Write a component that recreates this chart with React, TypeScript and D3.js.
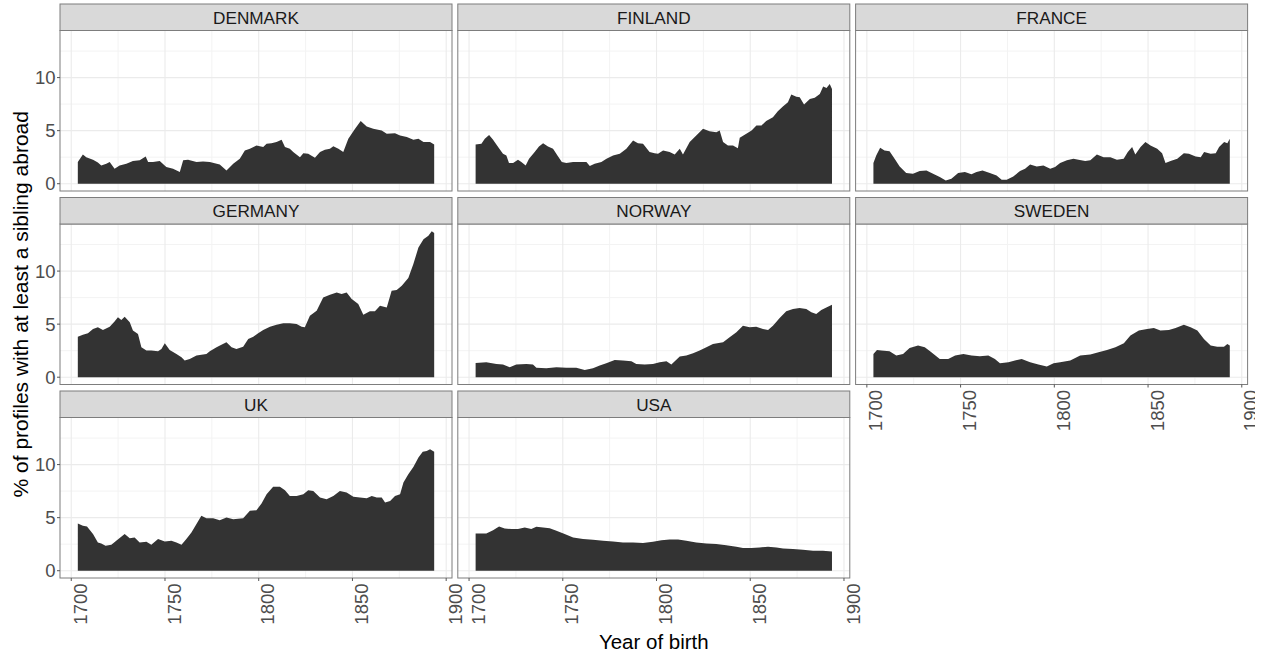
import React from "react";
import * as d3 from "d3";

type Pt = [number, number];

const COUNTRIES = ["DENMARK", "FINLAND", "FRANCE", "GERMANY", "NORWAY", "SWEDEN", "UK", "USA"];
const X_MAJOR = [1700, 1750, 1800, 1850, 1900];
const X_MINOR = [1725, 1775, 1825, 1875];
const Y_MAJOR = [0, 5, 10];
const Y_MINOR = [2.5, 7.5, 12.5];
const X_TITLE = "Year of birth";
const Y_TITLE = "% of profiles with at least a sibling abroad";

const DENMARK: Pt[] = [
  [1703.5, 2.04], [1706.2, 2.76], [1708, 2.5], [1711.6, 2.26], [1714.2, 2.0], [1716, 1.72], [1718.7, 1.88],
  [1720.5, 2.04], [1723.1, 1.41], [1725.8, 1.72], [1729.4, 1.88], [1732.9, 2.13], [1736.5, 2.2], [1739.7, 2.57],
  [1741, 2.04], [1743.6, 2.04], [1747.2, 2.13], [1750.7, 1.57], [1754.3, 1.41], [1757.9, 1.1], [1759.7, 2.2],
  [1762.3, 2.26], [1766.8, 2.04], [1770.3, 2.1], [1773.9, 2.04], [1779.2, 1.82], [1782.8, 1.25], [1786.4, 1.88],
  [1789.9, 2.35], [1792.6, 3.13], [1795.3, 3.29], [1798.8, 3.6], [1802.4, 3.45], [1804.2, 3.76], [1806.8, 3.82],
  [1809.5, 3.92], [1812.2, 4.14], [1814, 3.45], [1816.6, 3.29], [1818.4, 2.98], [1822, 2.5], [1823.8, 2.88],
  [1826.4, 2.82], [1830, 2.45], [1832.7, 2.98], [1835.3, 3.2], [1838, 3.29], [1839.8, 3.54], [1842.5, 3.29],
  [1845.1, 2.98], [1847.8, 4.23], [1851.4, 5.17], [1854.4, 5.9], [1857.6, 5.39], [1861.1, 5.17], [1865.6, 5.02],
  [1868.3, 4.7], [1872.7, 4.76], [1875.4, 4.55], [1879, 4.39], [1882.5, 4.14], [1885.2, 4.23], [1887.9, 3.92],
  [1891.4, 3.92], [1893.6, 3.7],
];

const FINLAND: Pt[] = [
  [1703.5, 3.7], [1706.6, 3.76], [1708.4, 4.23], [1710.7, 4.6], [1712.8, 4.14], [1715.5, 3.45], [1718.1, 2.82],
  [1719.9, 2.66], [1721.3, 1.94], [1723.5, 1.94], [1726.1, 2.26], [1727.9, 2.04], [1730.2, 1.72], [1732, 2.35],
  [1735, 2.98], [1737.3, 3.51], [1739.5, 3.82], [1742.1, 3.51], [1744.8, 3.29], [1747.5, 2.57], [1749.5, 2.04],
  [1751.9, 1.94], [1755.5, 2.04], [1759, 2.04], [1762.6, 2.04], [1764.4, 1.66], [1767, 1.88], [1770.6, 2.04],
  [1773.3, 2.35], [1776.8, 2.66], [1780.4, 2.82], [1783.9, 3.29], [1787.5, 4.08], [1790.1, 3.82], [1792.8, 3.76],
  [1796.3, 2.98], [1799, 2.88], [1800.8, 2.82], [1803.5, 3.13], [1807, 2.98], [1809.7, 2.76], [1812.4, 3.29],
  [1814.1, 2.76], [1817.7, 3.92], [1821.2, 4.55], [1824.8, 5.17], [1828.3, 4.95], [1831.9, 4.86], [1833.7, 5.02],
  [1835.5, 3.92], [1838.1, 3.6], [1840.8, 3.6], [1843.4, 3.35], [1844.4, 4.33], [1847.9, 4.7], [1850.7, 5.02],
  [1853.3, 5.49], [1856, 5.49], [1858.5, 5.9], [1862.1, 6.27], [1864.7, 6.83], [1867.4, 7.27], [1870.1, 7.68],
  [1871.9, 8.4], [1874.6, 8.2], [1876.4, 8.15], [1878.7, 7.46], [1881.8, 7.99], [1884.4, 8.09], [1887.1, 8.46],
  [1888.9, 9.15], [1890.7, 9.03], [1892.4, 9.4], [1893.6, 8.93],
];

const FRANCE: Pt[] = [
  [1703.5, 1.94], [1705, 2.66], [1707.1, 3.39], [1709.4, 3.13], [1712.1, 3.07], [1714.8, 2.35], [1717.5, 1.63],
  [1721, 1.0], [1724.6, 0.94], [1728.2, 1.19], [1731.8, 1.25], [1735.3, 0.94], [1738.9, 0.63], [1742.1, 0.31],
  [1745.1, 0.47], [1748.7, 1.0], [1752.3, 1.1], [1755.8, 0.88], [1758.5, 1.1], [1761.7, 1.25], [1765.6, 1.0],
  [1769.2, 0.78], [1771.9, 0.38], [1774.6, 0.38], [1778.1, 0.69], [1781.7, 1.19], [1784.4, 1.41], [1787.1, 1.82],
  [1790.6, 1.63], [1794.2, 1.72], [1797.8, 1.41], [1800.4, 1.57], [1803.1, 1.94], [1806.7, 2.2], [1810.2, 2.35],
  [1812.9, 2.26], [1816.5, 2.13], [1819.2, 2.2], [1822.7, 2.76], [1826.3, 2.5], [1829.9, 2.5], [1833.4, 2.26],
  [1837, 2.35], [1839.2, 2.98], [1841.5, 3.45], [1843.2, 2.76], [1846, 3.45], [1848.6, 3.92], [1851.3, 3.6],
  [1854.9, 3.29], [1857.5, 2.88], [1859.3, 1.94], [1862, 2.13], [1865.6, 2.35], [1869.1, 2.88], [1871.8, 2.82],
  [1875.4, 2.57], [1878.1, 2.5], [1879.9, 2.98], [1883.4, 2.82], [1886.1, 2.88], [1887.9, 3.45], [1890.6, 3.92],
  [1892.3, 3.82], [1893.6, 4.23],
];

const GERMANY: Pt[] = [
  [1703.5, 3.82], [1706.2, 4.01], [1708.9, 4.14], [1711.6, 4.55], [1714.2, 4.7], [1716.9, 4.45], [1720.5, 4.76],
  [1723.1, 5.24], [1724.9, 5.64], [1726.7, 5.39], [1728.5, 5.7], [1731.2, 5.17], [1732.9, 4.39], [1735.6, 4.08],
  [1737.4, 2.82], [1740.1, 2.51], [1742.7, 2.51], [1746.3, 2.45], [1748.1, 2.66], [1749.9, 3.2], [1752.5, 2.57],
  [1756.1, 2.19], [1758.8, 1.88], [1760.5, 1.57], [1763.2, 1.72], [1766.8, 2.04], [1770.3, 2.13], [1772.1, 2.19],
  [1773.9, 2.45], [1777.5, 2.82], [1780.1, 3.07], [1782.8, 3.29], [1785.5, 2.82], [1788.1, 2.66], [1791.7, 2.88],
  [1794.4, 3.6], [1797.1, 3.82], [1799.7, 4.14], [1802.4, 4.45], [1806, 4.76], [1809.5, 4.95], [1813.1, 5.08],
  [1816.6, 5.08], [1820.2, 5.02], [1822.9, 4.76], [1824.6, 4.7], [1827.3, 5.8], [1830.9, 6.27], [1834.4, 7.52],
  [1838, 7.77], [1841.6, 7.99], [1844.2, 7.84], [1846.9, 7.99], [1849.6, 7.37], [1853.1, 6.9], [1855.8, 5.89],
  [1859.3, 6.21], [1862, 6.21], [1864.7, 6.74], [1868.3, 6.58], [1870.9, 8.15], [1873.6, 8.21], [1876.3, 8.62],
  [1879.8, 9.34], [1882.5, 10.66], [1885.2, 12.23], [1887.9, 13.0], [1890.5, 13.32], [1892.3, 13.75], [1893.6, 13.6],
];

const NORWAY: Pt[] = [
  [1703.5, 1.35], [1709.2, 1.41], [1714.6, 1.25], [1718.1, 1.19], [1721.7, 0.94], [1725.2, 1.19], [1730.6, 1.25],
  [1734.1, 1.19], [1735.9, 0.88], [1741.2, 0.85], [1746.6, 0.94], [1751.9, 0.88], [1757.2, 0.88], [1761.7, 0.69],
  [1766.1, 0.85], [1769.7, 1.1], [1773.2, 1.32], [1777.7, 1.63], [1782.1, 1.57], [1786.6, 1.5], [1789.2, 1.25],
  [1793.7, 1.19], [1798.1, 1.25], [1801.7, 1.41], [1805.3, 1.5], [1807.9, 1.19], [1812.4, 1.94], [1815.9, 2.04],
  [1819.5, 2.26], [1823, 2.51], [1826.6, 2.82], [1830.1, 3.13], [1835.5, 3.29], [1839, 3.76], [1842.6, 4.23],
  [1846.1, 4.86], [1849.7, 4.7], [1853.2, 4.76], [1856.8, 4.55], [1859.5, 4.45], [1862.1, 4.86], [1865.7, 5.58],
  [1869.2, 6.21], [1872.8, 6.43], [1876.3, 6.52], [1879.9, 6.43], [1882.6, 6.11], [1885.2, 5.96], [1887.9, 6.33],
  [1890.6, 6.58], [1893.6, 6.83],
];

const SWEDEN: Pt[] = [
  [1703.5, 2.19], [1705.4, 2.57], [1707.7, 2.51], [1712.1, 2.45], [1715.7, 2.04], [1719.3, 2.19], [1722.8, 2.76],
  [1727.3, 2.98], [1730.9, 2.82], [1734.4, 2.35], [1738.9, 1.72], [1743.4, 1.72], [1747.1, 2.04], [1751.5, 2.19],
  [1755.8, 2.04], [1760.3, 1.97], [1764.8, 2.04], [1768.3, 1.72], [1771, 1.32], [1775.5, 1.41], [1779, 1.57],
  [1782.6, 1.72], [1787.1, 1.41], [1791.5, 1.19], [1796, 1.0], [1799.6, 1.32], [1803.1, 1.41], [1808.5, 1.57],
  [1813.8, 2.04], [1819.2, 2.13], [1823.6, 2.35], [1828.1, 2.57], [1832.6, 2.82], [1837.1, 3.2], [1840.6, 3.92],
  [1845.1, 4.39], [1849.5, 4.55], [1853.1, 4.64], [1856.6, 4.39], [1861.1, 4.45], [1864.7, 4.64], [1869.1, 4.95],
  [1872.7, 4.7], [1876.3, 4.39], [1879.8, 3.6], [1883.4, 2.98], [1886.9, 2.88], [1890.5, 2.88], [1892.3, 3.13],
  [1893.6, 2.98],
];

const UK: Pt[] = [
  [1703.5, 4.45], [1706.2, 4.23], [1708.4, 4.17], [1711.6, 3.45], [1714.2, 2.66], [1716, 2.57], [1718.3, 2.35],
  [1721.4, 2.45], [1724, 2.82], [1728.5, 3.45], [1731.2, 3.07], [1733.8, 3.13], [1736.5, 2.66], [1740.1, 2.73],
  [1742.7, 2.45], [1746.3, 2.98], [1749.9, 2.76], [1753.4, 2.82], [1756.1, 2.66], [1758.8, 2.45], [1761.4, 2.98],
  [1764.1, 3.61], [1766.8, 4.39], [1769.4, 5.17], [1772.1, 4.95], [1775.7, 4.95], [1779.2, 4.76], [1782.8, 5.02],
  [1786.4, 4.86], [1791.7, 4.95], [1795.3, 5.64], [1798.8, 5.7], [1801.5, 6.33], [1804.2, 7.21], [1807.7, 7.9],
  [1811.3, 7.9], [1814, 7.59], [1816.6, 7.05], [1820.2, 7.05], [1823.8, 7.21], [1826.4, 7.59], [1829.1, 7.52],
  [1832.7, 6.9], [1836.2, 6.74], [1839.8, 7.05], [1843.3, 7.52], [1846.9, 7.37], [1850.5, 6.96], [1854, 6.9],
  [1857.6, 6.83], [1860.3, 7.05], [1862.9, 6.9], [1865.6, 6.9], [1867.4, 6.43], [1870.1, 6.58], [1872.7, 7.05],
  [1875.4, 7.21], [1877.2, 8.31], [1879.8, 9.09], [1882.5, 9.78], [1885.2, 10.66], [1887.5, 11.22], [1889.6, 11.29],
  [1891.4, 11.44], [1893.6, 11.22],
];

const USA: Pt[] = [
  [1703.5, 3.51], [1709.2, 3.51], [1712.8, 3.82], [1716, 4.17], [1719, 3.98], [1722.6, 3.92], [1726.1, 3.92],
  [1729.7, 4.08], [1733.2, 3.92], [1735.9, 4.14], [1739.5, 4.08], [1743, 4.01], [1746.6, 3.76], [1751, 3.45],
  [1755.5, 3.13], [1760.8, 2.98], [1766.1, 2.92], [1771.5, 2.82], [1776.8, 2.76], [1782.1, 2.66], [1787.5, 2.66],
  [1792.8, 2.6], [1798.1, 2.73], [1802.6, 2.88], [1807, 2.95], [1811.5, 2.95], [1815.9, 2.82], [1821.2, 2.66],
  [1826.6, 2.57], [1831.9, 2.51], [1837.2, 2.41], [1842.6, 2.26], [1846.1, 2.13], [1850.6, 2.13], [1855, 2.19],
  [1859.5, 2.26], [1864, 2.19], [1867.5, 2.1], [1872.8, 2.04], [1878.1, 1.97], [1883.5, 1.88], [1888.8, 1.88],
  [1893.6, 1.82],
];

const SERIES: Pt[][] = [DENMARK, FINLAND, FRANCE, GERMANY, NORWAY, SWEDEN, UK, USA];

const FONT = "'Liberation Sans', Arial, Helvetica, sans-serif";
const W = 1265;
const H = 655;
const LEFT = 60;
const PANEL_W = 392;
const COL_GAP = 5.8;
const ROW_TOPS = [4, 197.5, 391];
const STRIP_H = 26.5;
const PANEL_H = 160.5;
const NCOL = 3;
const BORDER = "#7d7d7d";

export default function App() {
  const all = SERIES.flat();
  const [xmin, xmax] = d3.extent(all, (d) => d[0]) as [number, number];
  const ymax = d3.max(all, (d) => d[1]) as number;
  const xpad = (xmax - xmin) * 0.05;
  const ypad = ymax * 0.05;

  const panels = COUNTRIES.map((name, i) => {
    const col = i % NCOL;
    const row = Math.floor(i / NCOL);
    const px = LEFT + col * (PANEL_W + COL_GAP);
    const stripTop = ROW_TOPS[row];
    const pTop = stripTop + STRIP_H;
    const pBottom = pTop + PANEL_H;
    const x = d3.scaleLinear().domain([xmin - xpad, xmax + xpad]).range([px, px + PANEL_W]);
    const y = d3.scaleLinear().domain([-ypad, ymax + ypad]).range([pBottom, pTop]);
    const area = d3
      .area<Pt>()
      .x((d) => x(d[0]))
      .y0(y(0))
      .y1((d) => y(d[1]));
    const showY = col === 0;
    const showX = i + NCOL >= COUNTRIES.length;
    return (
      <g key={name}>
        <rect x={px} y={pTop} width={PANEL_W} height={PANEL_H} fill="#ffffff" />
        {Y_MINOR.map((v) => (
          <line key={"ym" + v} x1={px} x2={px + PANEL_W} y1={y(v)} y2={y(v)} stroke="#f3f3f3" strokeWidth={1} />
        ))}
        {X_MINOR.map((v) => (
          <line key={"xm" + v} x1={x(v)} x2={x(v)} y1={pTop} y2={pBottom} stroke="#f3f3f3" strokeWidth={1} />
        ))}
        {Y_MAJOR.map((v) => (
          <line key={"yM" + v} x1={px} x2={px + PANEL_W} y1={y(v)} y2={y(v)} stroke="#ebebeb" strokeWidth={1.1} />
        ))}
        {X_MAJOR.map((v) => (
          <line key={"xM" + v} x1={x(v)} x2={x(v)} y1={pTop} y2={pBottom} stroke="#ebebeb" strokeWidth={1.1} />
        ))}
        <path d={area(SERIES[i]) || ""} fill="#333333" />
        <rect x={px} y={pTop} width={PANEL_W} height={PANEL_H} fill="none" stroke={BORDER} strokeWidth={1} />
        <rect x={px} y={stripTop} width={PANEL_W} height={STRIP_H} fill="#d9d9d9" stroke={BORDER} strokeWidth={1} />
        <text
          x={px + PANEL_W / 2}
          y={stripTop + STRIP_H / 2 + 6.3}
          textAnchor="middle"
          fontFamily={FONT}
          fontSize={17.2}
          fill="#1a1a1a"
        >
          {name}
        </text>
        {showY &&
          Y_MAJOR.map((v) => (
            <g key={"yt" + v}>
              <line x1={px - 3} x2={px} y1={y(v)} y2={y(v)} stroke="#555" strokeWidth={1} />
              <text
                x={px - 4.5}
                y={y(v)}
                dy="0.36em"
                textAnchor="end"
                fontFamily={FONT}
                fontSize={18.5}
                fill="#4d4d4d"
              >
                {v}
              </text>
            </g>
          ))}
        {showX &&
          X_MAJOR.map((v) => (
            <g key={"xt" + v}>
              <line x1={x(v)} x2={x(v)} y1={pBottom} y2={pBottom + 3} stroke="#555" strokeWidth={1} />
              <text
                transform={`translate(${x(v)},${pBottom + 5.5}) rotate(-90)`}
                x={0}
                y={15.6}
                textAnchor="end"
                fontFamily={FONT}
                fontSize={18.5}
                fill="#4d4d4d"
              >
                {v}
              </text>
            </g>
          ))}
      </g>
    );
  });

  const plotMidY = (ROW_TOPS[0] + STRIP_H + ROW_TOPS[2] + STRIP_H + PANEL_H) / 2;
  const plotMidX = LEFT + (NCOL * PANEL_W + (NCOL - 1) * COL_GAP) / 2;

  return (
    <svg
      width={W}
      height={H}
      viewBox={`0 0 ${W} ${H}`}
      style={{ position: "absolute", left: 0, top: 0, display: "block", background: "#ffffff" }}
    >
      <defs>
        <clipPath id="pageclip">
          <rect x={0} y={0} width={1255} height={H} />
        </clipPath>
      </defs>
      <rect x={0} y={0} width={W} height={H} fill="#ffffff" />
      <g clipPath="url(#pageclip)">
        {panels}
        <text
          transform={`translate(28,${plotMidY}) rotate(-90)`}
          textAnchor="middle"
          fontFamily={FONT}
          fontSize={21}
          fill="#000000"
        >
          {Y_TITLE}
        </text>
        <text x={plotMidX} y={649} textAnchor="middle" fontFamily={FONT} fontSize={20.5} fill="#000000">
          {X_TITLE}
        </text>
      </g>
    </svg>
  );
}
